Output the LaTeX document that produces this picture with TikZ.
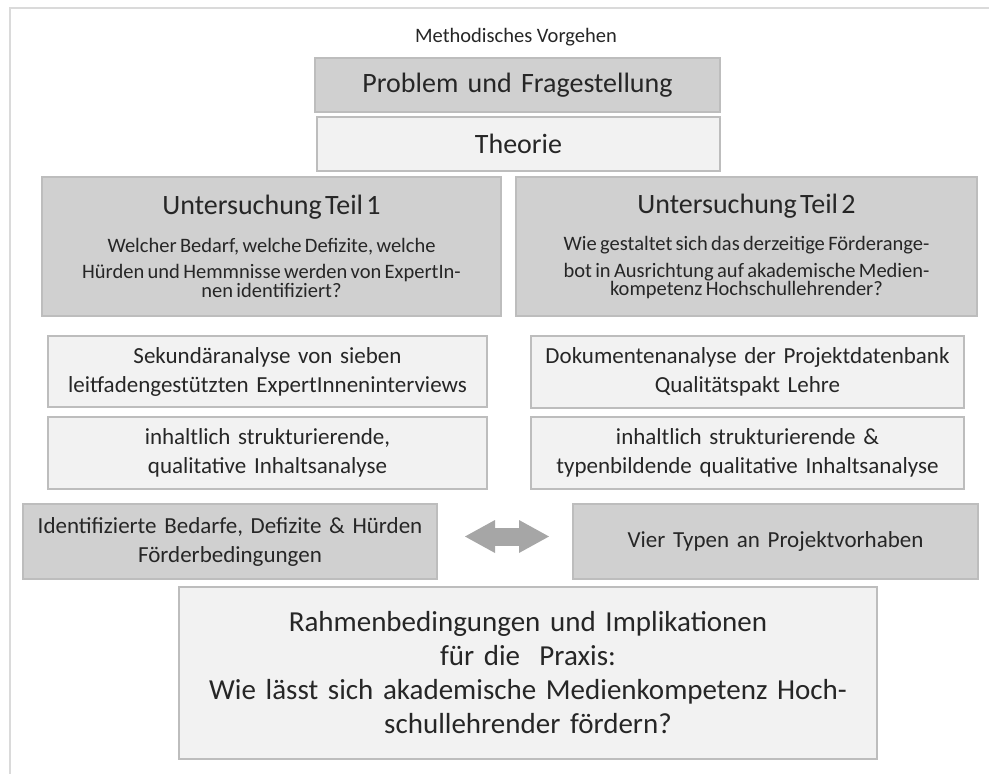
\documentclass[tikz,border=0pt]{standalone}
\usepackage{fontspec}
\setmainfont{Carlito}
\usetikzlibrary{arrows.meta}
\definecolor{darkfill}{HTML}{D0D0D0}
\definecolor{lightfill}{HTML}{F2F2F2}
\definecolor{boxline}{HTML}{BDBDBD}
\definecolor{frameline}{HTML}{DADADA}
\definecolor{arrowfill}{HTML}{A6A6A6}
\definecolor{ink}{HTML}{262626}
\newcommand{\fsz}[2]{\fontsize{#1}{#2}\selectfont}

\begin{document}
\begin{tikzpicture}[x=1pt,y=-1pt,
  box/.style={draw=boxline,line width=1.6pt,inner sep=0pt,outer sep=0pt,
    align=center,text=ink,anchor=north west},
  darkbox/.style={box,fill=darkfill},
  lightbox/.style={box,fill=lightfill},
  link/.style={draw=arrowfill,line width=18pt,shorten <=28pt,shorten >=24pt,
    {Triangle[length=30pt,width=33pt,line width=0pt]}-{Triangle[length=30pt,width=33pt,line width=0pt]}}]
  \useasboundingbox (0,0) rectangle (989,774);
  % frame
  \draw[frameline,line width=2pt] (989,8) -- (10,8) -- (10,774);
  \node[text=ink,font=\fsz{20.5}{24}] (title) at (516,37) {Methodisches Vorgehen};
  \node[darkbox,text width=405pt,minimum height=54pt,font=\fsz{28}{34}] (problem) at (315,58) {Problem und Fragestellung};
  \node[lightbox,text width=403pt,minimum height=54pt,font=\fsz{28}{34}] (theorie) at (317,117) {Theorie};
  % two parts
  \node[darkbox,text width=459pt,minimum height=139pt] (teil1) at (42,177)
    {\fsz{28}{34}Untersuchung Teil 1\par\vspace{11pt}\fsz{20.5}{26.5}Welcher Bedarf, welche Defizite, welche\\Hürden und Hemmnisse werden von ExpertIn-\\nen identifiziert?};
  \node[darkbox,text width=461pt,minimum height=139pt] (teil2) at (516,177)
    {\fsz{28}{34}Untersuchung Teil 2\par\vspace{11pt}\fsz{20.5}{26.5}Wie gestaltet sich das derzeitige Förderange-\\bot in Ausrichtung auf akademische Medien-\\kompetenz Hochschullehrender?};
  \node[lightbox,text width=439pt,minimum height=71pt,font=\fsz{23}{29}] (sek) at (48,336)
    {Sekundäranalyse von sieben\\leitfadengestützten ExpertInneninterviews};
  \node[lightbox,text width=433pt,minimum height=72pt,font=\fsz{23}{29}] (doku) at (531,336)
    {Dokumentenanalyse der Projektdatenbank\\Qualitätspakt Lehre};
  \node[lightbox,text width=439pt,minimum height=72pt,font=\fsz{23}{29}] (inhalt1) at (48,417)
    {inhaltlich strukturierende,\\qualitative Inhaltsanalyse};
  \node[lightbox,text width=433pt,minimum height=72pt,font=\fsz{23}{29}] (inhalt2) at (531,417)
    {inhaltlich strukturierende \&\\typenbildende qualitative Inhaltsanalyse};
  % results
  \node[darkbox,text width=414pt,minimum height=75pt,font=\fsz{23}{29}] (ident) at (23,504)
    {Identifizierte Bedarfe, Defizite \& Hürden\\Förderbedingungen};
  \node[darkbox,text width=405pt,minimum height=75pt,font=\fsz{23}{29}] (vier) at (573,504)
    {Vier Typen an Projektvorhaben};
  \draw[link] ([yshift=5pt]ident.east) -- ([yshift=5pt]vier.west);
  \node[lightbox,text width=698pt,minimum height=172pt,font=\fsz{29}{34}] (rahmen) at (179,587)
    {Rahmenbedingungen und Implikationen\\für die\ \ Praxis:\\Wie lässt sich akademische Medienkompetenz Hoch-\\schullehrender fördern?};
\end{tikzpicture}
\end{document}
